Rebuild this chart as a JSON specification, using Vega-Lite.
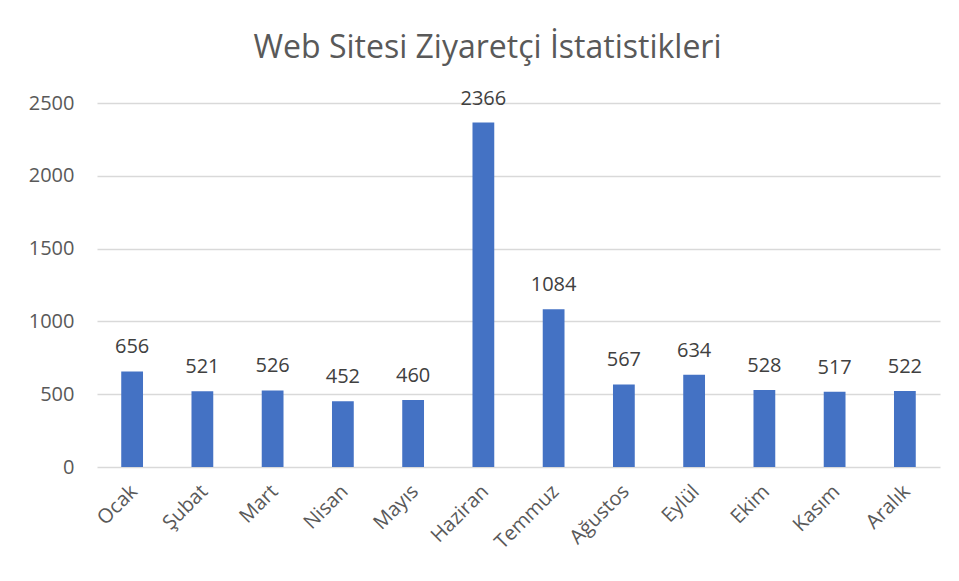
{
  "$schema": "https://vega.github.io/schema/vega-lite/v6.json",
  "autosize": {"type": "none"},
  "width": 843,
  "height": 364,
  "padding": {"left": 97, "top": 103, "right": 19, "bottom": 114},
  "background": "white",
  "title": {
    "text": "Web Sitesi Ziyaretçi İstatistikleri",
    "font": "Open Sans",
    "fontSize": 32,
    "fontWeight": "normal",
    "color": "#595959",
    "anchor": "middle",
    "dx": -31,
    "baseline": "alphabetic",
    "offset": -1
  },
  "data": {
    "values": [
      {"ay": "Ocak", "ziyaretci": 656},
      {"ay": "Şubat", "ziyaretci": 521},
      {"ay": "Mart", "ziyaretci": 526},
      {"ay": "Nisan", "ziyaretci": 452},
      {"ay": "Mayıs", "ziyaretci": 460},
      {"ay": "Haziran", "ziyaretci": 2366},
      {"ay": "Temmuz", "ziyaretci": 1084},
      {"ay": "Ağustos", "ziyaretci": 567},
      {"ay": "Eylül", "ziyaretci": 634},
      {"ay": "Ekim", "ziyaretci": 528},
      {"ay": "Kasım", "ziyaretci": 517},
      {"ay": "Aralık", "ziyaretci": 522}
    ]
  },
  "encoding": {
    "x": {
      "field": "ay",
      "type": "nominal",
      "sort": null,
      "scale": {"paddingInner": 0.69, "paddingOuter": 0.345},
      "axis": {
        "title": null,
        "labelAngle": -45,
        "labelFont": "Open Sans",
        "labelFontSize": 20,
        "labelColor": "#595959",
        "labelPadding": 14,
        "labelOffset": -5,
        "domain": false,
        "ticks": false
      }
    },
    "y": {
      "field": "ziyaretci",
      "type": "quantitative",
      "scale": {"domain": [0, 2500], "nice": false},
      "axis": {
        "title": null,
        "values": [0, 500, 1000, 1500, 2000, 2500],
        "format": "d",
        "labelFont": "Open Sans",
        "labelFontSize": 20,
        "labelColor": "#595959",
        "labelPadding": 23,
        "domain": false,
        "ticks": false,
        "gridColor": "#D9D9D9",
        "gridWidth": 1.3
      }
    }
  },
  "layer": [
    {"mark": {"type": "bar", "color": "#4472C4"}},
    {
      "mark": {
        "type": "text",
        "baseline": "alphabetic",
        "dy": -18,
        "font": "Open Sans",
        "fontSize": 20,
        "color": "#404040"
      },
      "encoding": {"text": {"field": "ziyaretci", "type": "quantitative", "format": "d"}}
    }
  ],
  "config": {"view": {"stroke": null}}
}
